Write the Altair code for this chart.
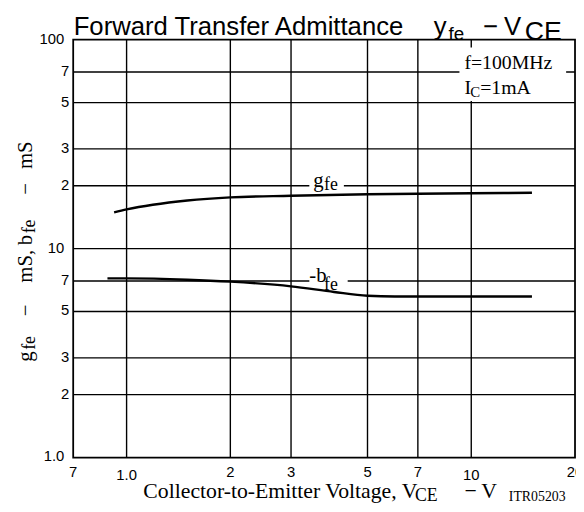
import altair as alt
import pandas as pd

# ---------------- data ----------------
gfe_vce = [0.92, 1.0, 1.5, 2, 3, 5, 7, 10, 15]
gfe_val = [14.9, 15.4, 17.0, 17.6, 17.9, 18.2, 18.3, 18.4, 18.5]
bfe_vce = [0.88, 1.0, 1.5, 2, 3, 4, 5, 6, 10, 15]
bfe_val = [7.2, 7.2, 7.1, 6.95, 6.6, 6.2, 5.95, 5.9, 5.9, 5.9]

x_grid = [1, 2, 3, 5, 7, 10]
y_grid = [2, 3, 5, 7, 10, 20, 30, 50, 70]
x_tick_vals = [0.7, 1, 2, 3, 5, 7, 10, 20]
x_tick_labels = ["7", "1.0", "2", "3", "5", "7", "10", "20"]
x_low_labels = ["1.0", "10"]
y_tick_vals = [1, 2, 3, 5, 7, 10, 20, 30, 50, 70, 100]
y_tick_labels = ["1.0", "2", "3", "5", "7", "10", "2", "3", "5", "7", "100"]
y_wide_labels = ["1.0", "10", "100"]

SANS = "Liberation Sans"
SERIF = "Liberation Serif"
W, H = 508, 423

XS = alt.Scale(type="log", domain=[0.7, 20], nice=False)
YS = alt.Scale(type="log", domain=[1, 100], nice=False)

df = pd.DataFrame({
    "vce": gfe_vce + bfe_vce,
    "val": gfe_val + bfe_val,
    "series": ["gfe"] * len(gfe_vce) + ["-bfe"] * len(bfe_vce),
})

one = pd.DataFrame({"t": [0]})

# grid lines
xgrid = alt.Chart(pd.DataFrame({"v": x_grid})).mark_rule(color="black", strokeWidth=1.4).encode(
    x=alt.X("v:Q", scale=XS, axis=None), y=alt.value(0), y2=alt.value(H))
ygrid = alt.Chart(pd.DataFrame({"v": y_grid})).mark_rule(color="black", strokeWidth=1.4).encode(
    y=alt.Y("v:Q", scale=YS, axis=None), x=alt.value(0), x2=alt.value(W))

border = alt.Chart(one).mark_rect(fillOpacity=0, stroke="black", strokeWidth=1.8).encode(
    x=alt.value(0), x2=alt.value(W), y=alt.value(0), y2=alt.value(H))

lines = alt.Chart(df).mark_line(color="black", strokeWidth=2.4, interpolate="monotone").encode(
    x=alt.X("vce:Q", scale=XS, axis=None),
    y=alt.Y("val:Q", scale=YS, axis=None),
    detail="series:N",
)


def ptext(txt, x, y, size, font, align="left", angle=0, baseline="alphabetic"):
    kw = dict(text=txt, align=align, baseline=baseline, fontSize=size, font=font, color="black")
    if angle:
        kw["angle"] = angle
    return alt.Chart(one).mark_text(**kw).encode(x=alt.value(x), y=alt.value(y))


def dtext(txt, xv, yv, size, font, dy=0):
    return alt.Chart(one).mark_text(text=txt, align="left", baseline="alphabetic", fontSize=size,
                                    font=font, color="black", dy=dy).encode(
        x=alt.XDatum(xv, type="quantitative", scale=XS, axis=None),
        y=alt.YDatum(yv, type="quantitative", scale=YS, axis=None),
    )


def drect(x1, x2, y1, y2):
    return alt.Chart(one).mark_rect(color="white").encode(
        x=alt.XDatum(x1, type="quantitative", scale=XS, axis=None),
        x2=alt.X2Datum(x2),
        y=alt.YDatum(y1, type="quantitative", scale=YS, axis=None),
        y2=alt.Y2Datum(y2),
    )


# white boxes behind labels (hide grid lines)
box_note = alt.Chart(one).mark_rect(color="white").encode(
    x=alt.value(391), x2=alt.value(499), y=alt.value(8), y2=alt.value(62))
box_g = drect(3.39, 4.27, 21.0, 19.0)
box_b = drect(3.39, 4.38, 7.3, 6.75)

# tick labels
xt = pd.DataFrame({"v": x_tick_vals, "lab": x_tick_labels})
xt_hi = xt[~xt["lab"].isin(x_low_labels)]
xt_lo = xt[xt["lab"].isin(x_low_labels)]
xlab_hi = alt.Chart(xt_hi).mark_text(font=SANS, fontSize=15, baseline="middle", align="center").encode(
    x=alt.X("v:Q", scale=XS, axis=None), y=alt.value(438), text="lab:N")
xlab_lo = alt.Chart(xt_lo).mark_text(font=SANS, fontSize=15, baseline="middle", align="center").encode(
    x=alt.X("v:Q", scale=XS, axis=None), y=alt.value(441), text="lab:N")

yt = pd.DataFrame({"v": y_tick_vals, "lab": y_tick_labels})
yt_n = yt[~yt["lab"].isin(y_wide_labels)]
yt_w = yt[yt["lab"].isin(y_wide_labels)]
ylab_n = alt.Chart(yt_n).mark_text(font=SANS, fontSize=15, baseline="middle", align="right", dy=-1).encode(
    y=alt.Y("v:Q", scale=YS, axis=None), x=alt.value(-4), text="lab:N")
ylab_w = alt.Chart(yt_w).mark_text(font=SANS, fontSize=15, baseline="middle", align="right", dy=-1).encode(
    y=alt.Y("v:Q", scale=YS, axis=None), x=alt.value(-9), text="lab:N")

# title
title = [
    ptext("Forward Transfer Admittance", 0.5, -5, 26, SANS),
    ptext("y", 365, -5, 26, SANS),
    ptext("fe", 380, 0, 19, SANS),
    ptext("\u2212", 415, -5, 26, SANS),
    ptext("V", 436, -5, 26, SANS),
    ptext("CE", 457, 0, 27, SANS),
]

# x axis title
xtitle = [
    ptext("Collector-to-Emitter Voltage, V", 71, 464, 22, SERIF),
    ptext("CE", 346, 467, 18, SERIF),
    ptext("\u2212", 396, 464, 22, SERIF),
    ptext("V", 413, 464, 22, SERIF),
    ptext("ITR05203", 441, 467, 14, SERIF),
]

# y axis title (rotated)
ytitle = [
    ptext("g", -42, 326, 21, SERIF, angle=270),
    ptext("fe", -39, 314, 18, SERIF, angle=270),
    ptext("\u2212", -42, 274, 21, SERIF, align="center", angle=270),
    ptext("mS,", -42, 246, 21, SERIF, angle=270),
    ptext("b", -42, 208, 21, SERIF, angle=270),
    ptext("fe", -39, 196, 18, SERIF, angle=270),
    ptext("\u2212", -42, 151, 21, SERIF, align="center", angle=270),
    ptext("mS", -42, 131, 21, SERIF, angle=270),
]

# conditions note
note = [
    ptext("f=100MHz", 396, 30, 20, SERIF),
    ptext("I", 396, 55, 20, SERIF),
    ptext("C", 402, 58, 15, SERIF),
    ptext("=1mA", 412, 55, 20, SERIF),
]

# curve labels
curve_labels = [
    dtext("g", 3.48, 20, 21, SERIF, dy=1.5),
    dtext("fe", 3.74, 20, 18, SERIF, dy=4),
    dtext("-b", 3.39, 7, 21, SERIF, dy=1),
    dtext("fe", 3.74, 7, 18, SERIF, dy=9),
]

chart = alt.layer(
    xgrid, ygrid, box_note, box_g, box_b, lines, border,
    *curve_labels, xlab_hi, xlab_lo, ylab_n, ylab_w,
    *title, *xtitle, *ytitle, *note,
).properties(
    width=W, height=H,
    padding={"left": 66, "top": 29, "right": 1, "bottom": 48},
    autosize=alt.AutoSizeParams(type="none"),
).configure_view(stroke=None)

chart.save("out.html", embed_options={"renderer": "svg", "actions": False})
